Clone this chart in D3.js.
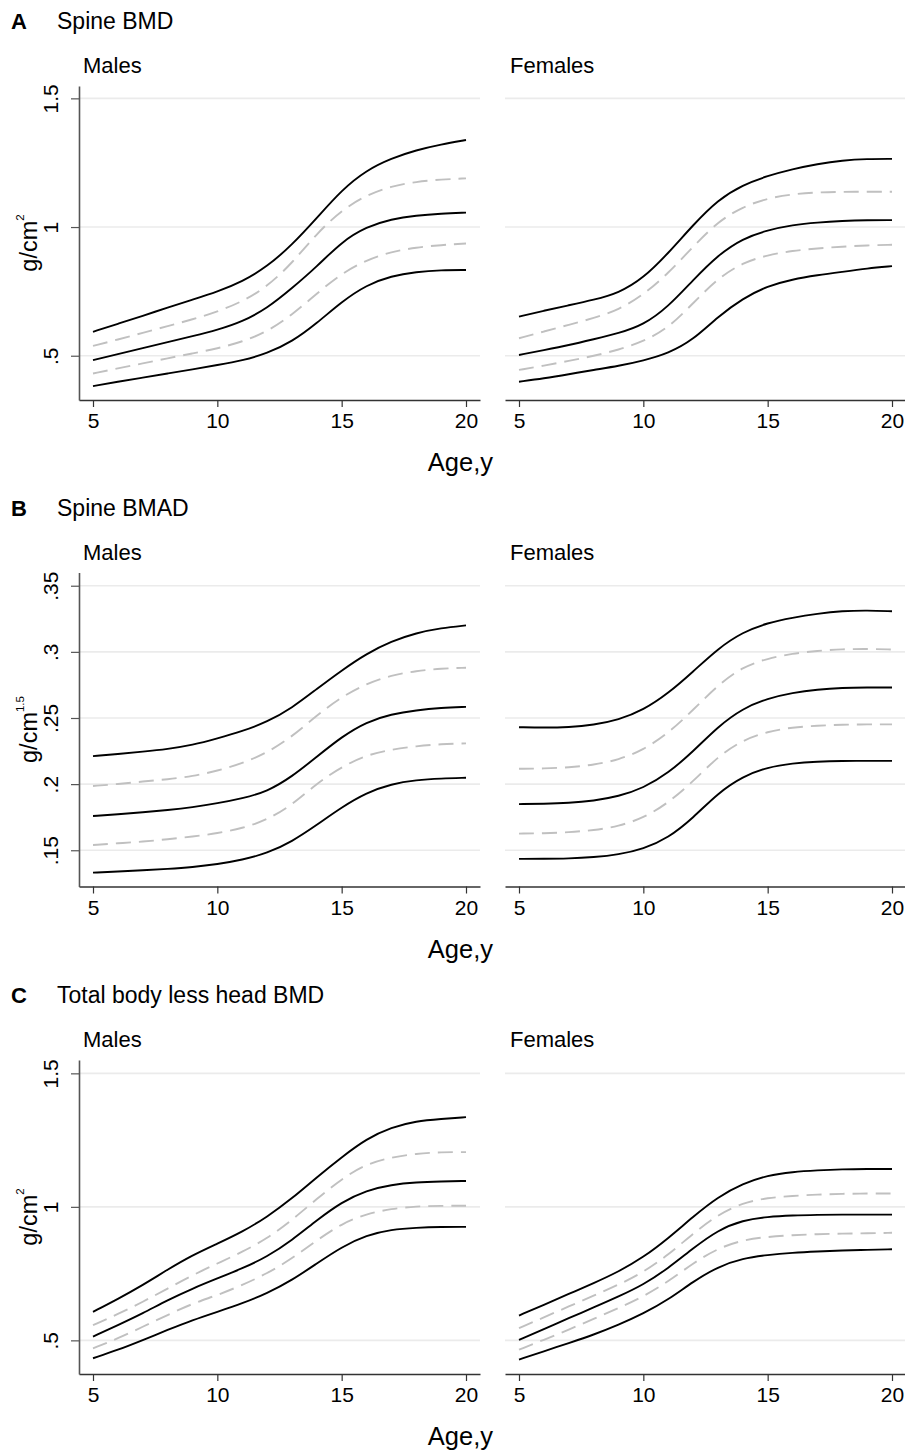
<!DOCTYPE html>
<html>
<head>
<meta charset="utf-8">
<script src="https://cdn.jsdelivr.net/npm/d3@7"></script>
<style>
  html, body { margin: 0; padding: 0; background: #fff; }
  svg { display: block; font-family: "Liberation Sans", Arial, Helvetica, sans-serif; }
</style>
</head>
<body>
<svg id="chart" width="905" height="1452"></svg>
<script>
// ---------------- DATA ----------------
const ages = [5,6,7,8,9,10,11,12,13,14,15,16,17,18,19,20];
const xTicks = [5, 10, 15, 20];
const sexes = ["Males", "Females"];
const lineKinds = ["solid", "dashed", "solid", "dashed", "solid"]; // top -> bottom

const rowLetters = ["A", "B", "C"];
const rowTitles = ["Spine BMD", "Spine BMAD", "Total body less head BMD"];
const rowUnitSup = ["2", "1.5", "2"];
const rowYDomains = [[0.328, 1.548], [0.1226, 0.360], [0.374, 1.55]];
const yTicksBMD = [0.5, 1, 1.5];
const yTickLabelsBMD = [".5", "1", "1.5"];
const yTicksBMAD = [0.15, 0.2, 0.25, 0.3, 0.35];
const yTickLabelsBMAD = [".15", ".2", ".25", ".3", ".35"];

// A: Spine BMD, males
const spineBMD_M_top    = [0.593,0.624,0.655,0.687,0.718,0.749,0.788,0.846,0.930,1.035,1.144,1.221,1.267,1.299,1.321,1.338];
const spineBMD_M_upper  = [0.538,0.563,0.589,0.615,0.641,0.671,0.710,0.768,0.859,0.975,1.066,1.124,1.159,1.176,1.185,1.189];
const spineBMD_M_median = [0.483,0.506,0.530,0.553,0.576,0.600,0.632,0.684,0.762,0.846,0.943,1.001,1.031,1.045,1.052,1.056];
const spineBMD_M_lower  = [0.431,0.451,0.470,0.490,0.509,0.528,0.554,0.593,0.658,0.742,0.820,0.872,0.904,0.921,0.930,0.936];
const spineBMD_M_bottom = [0.382,0.399,0.415,0.431,0.447,0.464,0.481,0.509,0.554,0.626,0.710,0.775,0.810,0.826,0.833,0.833];
// A: Spine BMD, females
const spineBMD_F_top    = [0.652,0.675,0.696,0.717,0.743,0.801,0.898,1.008,1.106,1.164,1.199,1.225,1.245,1.259,1.265,1.265];
const spineBMD_F_upper  = [0.568,0.594,0.620,0.646,0.678,0.736,0.820,0.924,1.021,1.079,1.112,1.128,1.135,1.137,1.137,1.137];
const spineBMD_F_median = [0.503,0.522,0.541,0.564,0.587,0.619,0.690,0.794,0.891,0.956,0.988,1.008,1.018,1.024,1.027,1.027];
const spineBMD_F_lower  = [0.445,0.461,0.480,0.499,0.523,0.555,0.607,0.704,0.801,0.862,0.891,0.908,0.917,0.924,0.929,0.931];
const spineBMD_F_bottom = [0.399,0.412,0.428,0.445,0.460,0.481,0.509,0.561,0.652,0.723,0.771,0.797,0.813,0.826,0.839,0.848];
// B: Spine BMAD, males
const spineBMAD_M_top    = [0.2212,0.2227,0.2245,0.2265,0.2295,0.2345,0.2400,0.2470,0.2575,0.2720,0.2860,0.2987,0.3080,0.3143,0.3180,0.3200];
const spineBMAD_M_upper  = [0.1986,0.2000,0.2020,0.2036,0.2060,0.2100,0.2157,0.2237,0.2358,0.2520,0.2660,0.2760,0.2823,0.2856,0.2874,0.2880];
const spineBMAD_M_median = [0.1759,0.1772,0.1787,0.1804,0.1825,0.1855,0.1892,0.1943,0.2056,0.2207,0.2358,0.2471,0.2529,0.2559,0.2577,0.2584];
const spineBMAD_M_lower  = [0.1540,0.1553,0.1565,0.1583,0.1603,0.1628,0.1666,0.1729,0.1842,0.2006,0.2131,0.2220,0.2262,0.2287,0.2303,0.2308];
const spineBMAD_M_bottom = [0.1331,0.1339,0.1349,0.1359,0.1372,0.1394,0.1427,0.1477,0.1565,0.1691,0.1825,0.1935,0.2001,0.2031,0.2043,0.2048];
// B: Spine BMAD, females
const spineBMAD_F_top    = [0.2430,0.2427,0.2430,0.2447,0.2485,0.2560,0.2686,0.2850,0.3025,0.3150,0.3219,0.3259,0.3289,0.3309,0.3314,0.3307];
const spineBMAD_F_upper  = [0.2116,0.2118,0.2126,0.2146,0.2183,0.2259,0.2384,0.2560,0.2749,0.2887,0.2950,0.2987,0.3008,0.3020,0.3023,0.3018];
const spineBMAD_F_median = [0.1849,0.1851,0.1857,0.1874,0.1907,0.1970,0.2083,0.2246,0.2435,0.2573,0.2648,0.2691,0.2716,0.2729,0.2731,0.2731];
const spineBMAD_F_lower  = [0.1626,0.1628,0.1636,0.1651,0.1681,0.1744,0.1857,0.2020,0.2209,0.2334,0.2397,0.2430,0.2442,0.2450,0.2452,0.2452];
const spineBMAD_F_bottom = [0.1435,0.1435,0.1437,0.1447,0.1467,0.1510,0.1593,0.1744,0.1932,0.2058,0.2128,0.2158,0.2171,0.2176,0.2176,0.2176];
// C: Total body less head BMD, males
const tblhBMD_M_top    = [0.607,0.655,0.707,0.765,0.819,0.862,0.906,0.962,1.031,1.111,1.186,1.255,1.298,1.321,1.329,1.336];
const tblhBMD_M_upper  = [0.557,0.598,0.644,0.694,0.744,0.788,0.831,0.881,0.950,1.030,1.105,1.161,1.186,1.199,1.205,1.205];
const tblhBMD_M_median = [0.514,0.557,0.601,0.651,0.694,0.732,0.769,0.813,0.875,0.950,1.018,1.062,1.083,1.092,1.095,1.097];
const tblhBMD_M_lower  = [0.470,0.507,0.551,0.595,0.638,0.669,0.707,0.750,0.806,0.875,0.937,0.974,0.993,1.002,1.004,1.004];
const tblhBMD_M_bottom = [0.433,0.464,0.501,0.539,0.576,0.607,0.638,0.676,0.725,0.788,0.850,0.894,0.915,0.922,0.925,0.925];
// C: Total body less head BMD, females
const tblhBMD_F_top    = [0.593,0.633,0.674,0.714,0.757,0.811,0.882,0.963,1.037,1.087,1.118,1.131,1.137,1.141,1.142,1.142];
const tblhBMD_F_upper  = [0.546,0.586,0.627,0.667,0.708,0.755,0.820,0.900,0.971,1.015,1.034,1.041,1.046,1.049,1.050,1.050];
const tblhBMD_F_median = [0.502,0.542,0.583,0.623,0.664,0.708,0.770,0.845,0.913,0.950,0.963,0.968,0.970,0.971,0.971,0.971];
const tblhBMD_F_lower  = [0.465,0.502,0.540,0.580,0.621,0.664,0.720,0.789,0.845,0.876,0.888,0.894,0.898,0.900,0.901,0.903];
const tblhBMD_F_bottom = [0.428,0.459,0.490,0.521,0.558,0.600,0.652,0.720,0.776,0.807,0.820,0.828,0.833,0.837,0.839,0.841];

// ---------------- LAYOUT ----------------
const svg = d3.select("#chart");
const font = "'Liberation Sans', Arial, Helvetica, sans-serif";
const rowOffsets = [0, 486.5, 974];
const panelX = [[79, 480], [505, 906]];
const plotTop = 86, plotBottom = 400;
const xDomain = [4.437, 20.563];

const panelData = [
  [[spineBMD_M_top, spineBMD_M_upper, spineBMD_M_median, spineBMD_M_lower, spineBMD_M_bottom],
   [spineBMD_F_top, spineBMD_F_upper, spineBMD_F_median, spineBMD_F_lower, spineBMD_F_bottom]],
  [[spineBMAD_M_top, spineBMAD_M_upper, spineBMAD_M_median, spineBMAD_M_lower, spineBMAD_M_bottom],
   [spineBMAD_F_top, spineBMAD_F_upper, spineBMAD_F_median, spineBMAD_F_lower, spineBMAD_F_bottom]],
  [[tblhBMD_M_top, tblhBMD_M_upper, tblhBMD_M_median, tblhBMD_M_lower, tblhBMD_M_bottom],
   [tblhBMD_F_top, tblhBMD_F_upper, tblhBMD_F_median, tblhBMD_F_lower, tblhBMD_F_bottom]]
];
const rowYTicks = [yTicksBMD, yTicksBMAD, yTicksBMD];
const rowYTickLabels = [yTickLabelsBMD, yTickLabelsBMAD, yTickLabelsBMD];

rowLetters.forEach((letter, r) => {
  const g = svg.append("g").attr("transform", `translate(0,${rowOffsets[r]})`);

  // Row heading
  g.append("text").attr("x", 11).attr("y", 29)
    .attr("font-size", 22).attr("font-weight", "bold").attr("fill", "#000").text(letter);
  g.append("text").attr("x", 57).attr("y", 29)
    .attr("font-size", 23).attr("fill", "#000").text(rowTitles[r]);

  const y = d3.scaleLinear().domain(rowYDomains[r]).range([plotBottom, plotTop]);

  sexes.forEach((sex, s) => {
    const [x0, x1] = panelX[s];
    const x = d3.scaleLinear().domain(xDomain).range([x0, x1]);
    const p = g.append("g");

    // panel title
    p.append("text").attr("x", x0 + (s === 0 ? 4 : 5)).attr("y", 73)
      .attr("font-size", 22).attr("fill", "#000").text(sex);

    // gridlines
    p.append("g").selectAll("line").data(rowYTicks[r]).join("line")
      .attr("x1", x0).attr("x2", x1)
      .attr("y1", d => y(d)).attr("y2", d => y(d))
      .attr("stroke", "#ebebeb").attr("stroke-width", 1.6);

    // x axis
    const xAxis = d3.axisBottom(x).tickValues(xTicks).tickSize(7).tickPadding(6).tickSizeOuter(0)
      .tickFormat(d3.format("d"));
    const xg = p.append("g").attr("transform", `translate(0,${plotBottom})`).call(xAxis);
    xg.select(".domain").attr("stroke", "#333").attr("stroke-width", 1.4);
    xg.selectAll(".tick line").attr("stroke", "#333").attr("stroke-width", 1.2);
    xg.selectAll(".tick text").attr("font-size", 21).attr("font-family", font).attr("fill", "#000")
      .attr("dy", "0.72em");

    // y axis (males only)
    if (s === 0) {
      const labels = rowYTickLabels[r];
      const yAxis = d3.axisLeft(y).tickValues(rowYTicks[r]).tickSize(8).tickSizeOuter(0)
        .tickFormat((d, i) => labels[i]);
      const yg = p.append("g").attr("transform", `translate(${x0},0)`).call(yAxis);
      yg.select(".domain").attr("stroke", "#555").attr("stroke-width", 1.6);
      yg.selectAll(".tick line").attr("stroke", "#555").attr("stroke-width", 1.2);
      yg.selectAll(".tick text")
        .attr("font-size", 21).attr("font-family", font).attr("fill", "#000")
        .attr("x", null).attr("dy", null)
        .attr("text-anchor", "middle")
        .attr("transform", "translate(-21,0) rotate(-90)");

      // y axis label
      const yl = p.append("text")
        .attr("transform", `translate(37,${(plotTop + plotBottom) / 2}) rotate(-90)`)
        .attr("text-anchor", "middle").attr("font-size", 23.5).attr("fill", "#000");
      yl.append("tspan").text("g/cm");
      yl.append("tspan").attr("font-size", 11.5).attr("dy", -13).text(rowUnitSup[r]);
    }

    // curves
    const line = d3.line().x((d, i) => x(ages[i])).y(d => y(d)).curve(d3.curveBasis);
    panelData[r][s].forEach((vals, k) => {
      const dashed = lineKinds[k] === "dashed";
      p.append("path").datum(vals).attr("d", line)
        .attr("fill", "none")
        .attr("stroke", dashed ? "#c0c0c0" : "#000")
        .attr("stroke-width", 1.9)
        .attr("stroke-dasharray", dashed ? "15,8" : null)
        .attr("stroke-linecap", "butt");
    });
  });

  // x-axis title
  g.append("text").attr("x", 493).attr("y", 471).attr("text-anchor", "end")
    .attr("font-size", 25.5).attr("fill", "#000").text("Age,y");
});
</script>
</body>
</html>
